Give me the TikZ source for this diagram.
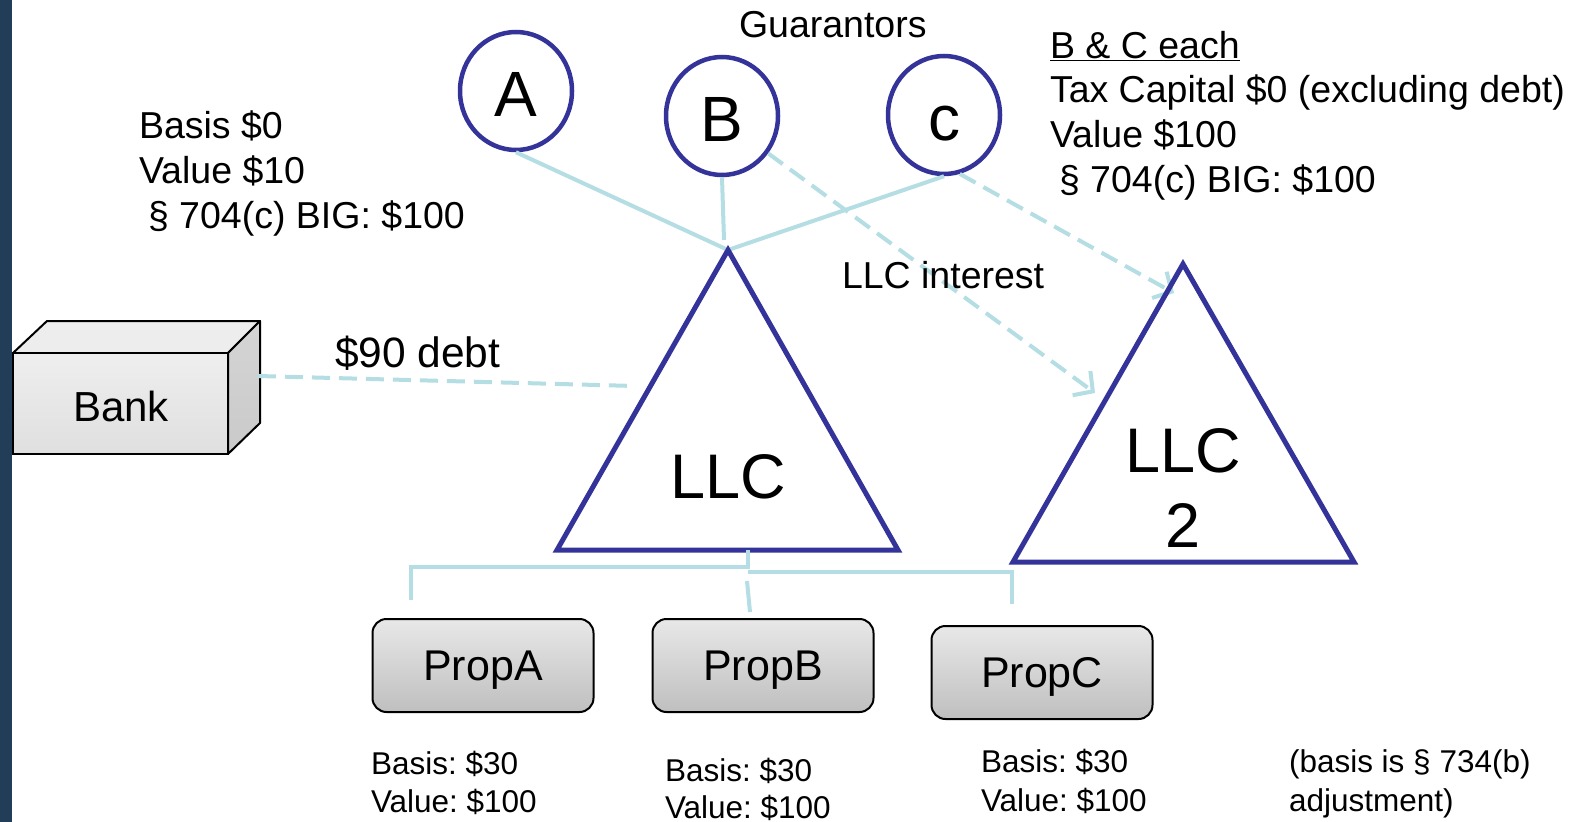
\documentclass[tikz,border=0pt]{standalone}
\usepackage{fontspec}
\setmainfont{Liberation Sans}
\usetikzlibrary{arrows.meta,shapes.geometric,calc}

\definecolor{navyline}{HTML}{333399}
\definecolor{linkblue}{HTML}{B4DEE3}
\definecolor{sidebar}{HTML}{213D57}
\definecolor{boxtop}{HTML}{E8E8E8}
\definecolor{boxbot}{HTML}{BFBFBF}

\frenchspacing

\tikzset{
  txt/.style={inner sep=0pt, outer sep=0pt, anchor=base west},
  toptxt/.style={txt, font=\fontsize{37.5}{45}\selectfont},
  smalltxt/.style={txt, font=\fontsize{31.5}{38}\selectfont},
  partner/.style={ellipse, draw=navyline, line width=4.5pt, fill=white,
    minimum width=112pt, minimum height=118pt, inner sep=0pt,
    text height=50pt, text depth=0pt,
    font=\fontsize{64}{76}\selectfont},
  entity/.style={draw=navyline, line width=5pt, line join=miter},
  bigtxt/.style={font=\fontsize{63}{75}\selectfont, inner sep=0pt},
  propbox/.style={draw=black, line width=2pt, rounded corners=14pt,
    top color=boxtop, bottom color=boxbot,
    minimum width=221pt, minimum height=93pt, inner sep=0pt,
    text height=30pt, text depth=0pt,
    font=\fontsize{43}{51}\selectfont},
  link/.style={draw=linkblue, line width=4pt},
  linkdash/.style={link, dash pattern=on 18pt off 9pt},
  barb/.style={-{Straight Barb[length=14pt, width=30pt]}},
}

\begin{document}
\begin{tikzpicture}[x=1pt, y=-1pt]
  \useasboundingbox (0,0) rectangle (1583,822);
  \fill[white] (0,0) rectangle (1583,822);
  \fill[sidebar] (0,0) rectangle (12,822);

  % key points of the two LLC triangles
  \coordinate (llcTop) at (728,250);
  \coordinate (llcBL) at (557,550);
  \coordinate (llcBR) at (898,550);
  \coordinate (llcTwoTop) at (1183,264);
  \coordinate (llcTwoBL) at (1013,562);
  \coordinate (llcTwoBR) at (1354,562);

  % guarantor circles
  \node[partner] (A) at (516,91) {A};
  \node[partner] (B) at (722,116) {B};
  \node[partner] (C) at (944,115) {c};

  % solid links from the partners to the LLC
  \coordinate (bFoot) at (724,240);
  \draw[link] (A.south) -- (llcTop);
  \draw[link] (B.south) -- (bFoot);
  \draw[link] (C.south) -- (llcTop);

  % dashed LLC-interest arrows into LLC 2
  \coordinate (tipLow) at (1095,393);
  \coordinate (tipHigh) at (1174,293);
  \draw[linkdash, barb] (B.-39) -- (tipLow);
  \draw[linkdash, barb] (C.-75) -- (tipHigh);

  % triangles
  \draw[entity] (llcTop) -- (llcBL) -- (llcBR) -- cycle;
  \draw[entity] (llcTwoTop) -- (llcTwoBL) -- (llcTwoBR) -- cycle;
  \node[bigtxt] (llc) at (728,477) {LLC};
  \node[bigtxt] (llcTwo) at (1183,451) {LLC};
  \node[bigtxt] (llcTwoNum) at (1183,525) {2};

  % the bank as a 3D box
  \draw[black, line width=2pt, fill=gray!14, line join=round]
    (13,353) -- (47,321) -- (260,321) -- (228,353) -- cycle;
  \draw[black, line width=2pt, top color=gray!33, bottom color=gray!42, line join=round]
    (228,353) -- (260,321) -- (260,423) -- (228,454) -- cycle;
  \draw[black, line width=2pt, top color=gray!13, bottom color=gray!25]
    (13,353) rectangle (228,454);
  \node[font=\fontsize{42}{50}\selectfont, inner sep=0pt] (bank) at (121,406) {Bank};

  % bank debt link
  \coordinate (bankSide) at (258,376);
  \coordinate (debtEnd) at (635,386);
  \draw[linkdash] (bankSide) -- (debtEnd);
  \node[txt, font=\fontsize{42.5}{51}\selectfont] (debt) at (335,367) {\$90 debt};

  % property boxes
  \node[propbox] (propA) at (483,665.5) {PropA};
  \node[propbox] (propB) at (763,665.5) {PropB};
  \node[propbox] (propC) at (1042,672.5) {PropC};

  % LLC ownership tree down to the properties
  \coordinate (stem) at (748,550);
  \coordinate (leftJoin) at (748,567);
  \coordinate (leftCorner) at (411,567);
  \coordinate (leftDrop) at (411,600);
  \coordinate (rightJoin) at (748,572);
  \coordinate (rightCorner) at (1012,572);
  \coordinate (rightDrop) at (1012,604);
  \coordinate (midTop) at (747,581);
  \coordinate (midDrop) at (750,612);
  \draw[link] (stem) -- (leftJoin) -- (leftCorner) -- (leftDrop);
  \draw[link] (rightJoin) -- (rightCorner) -- (rightDrop);
  \draw[link] (midTop) -- (midDrop);

  % labels
  \node[toptxt] (guar) at (739,37) {Guarantors};
  \node[toptxt] (interest) at (842,288) {LLC interest};

  \node[toptxt] (aBasis) at (139,138) {Basis \$0};
  \node[toptxt] (aValue) at (139,183) {Value \$10};
  \node[toptxt] (aBig) at (148,228) {§ 704(c) BIG: \$100};

  \node[toptxt] (bcHead) at (1050,58) {\underline{B \& C each}};
  \node[toptxt] (bcCap) at (1050,102) {Tax Capital \$0 (excluding debt)};
  \node[toptxt] (bcValue) at (1050,147) {Value \$100};
  \node[toptxt] (bcBig) at (1059,192) {§ 704(c) BIG: \$100};

  \node[smalltxt] (paBasis) at (371,774) {Basis: \$30};
  \node[smalltxt] (paValue) at (371,812) {Value: \$100};
  \node[smalltxt] (pbBasis) at (665,781) {Basis: \$30};
  \node[smalltxt] (pbValue) at (665,818) {Value: \$100};
  \node[smalltxt] (pcBasis) at (981,772) {Basis: \$30};
  \node[smalltxt] (pcValue) at (981,811) {Value: \$100};
  \node[smalltxt] (note1) at (1289,772) {(basis is § 734(b)};
  \node[smalltxt] (note2) at (1289,811) {adjustment)};
\end{tikzpicture}
\end{document}
